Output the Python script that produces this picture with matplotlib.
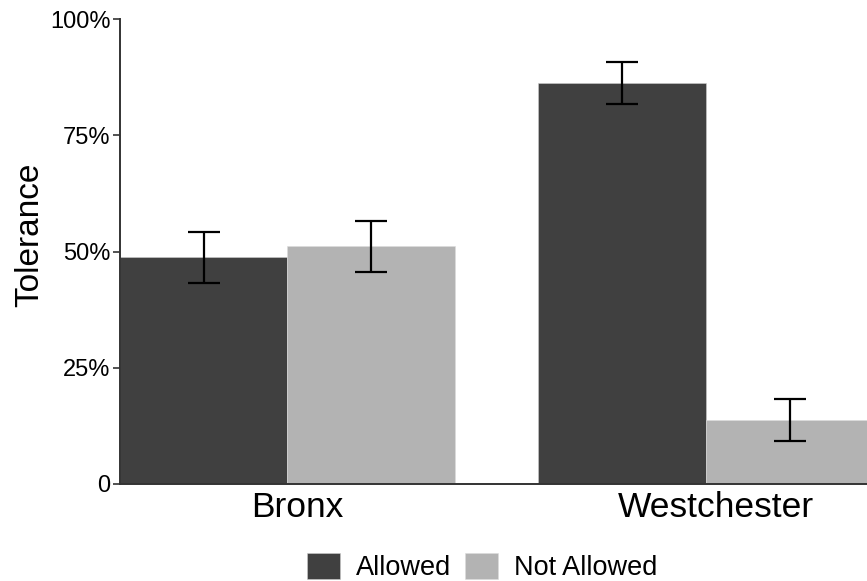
import matplotlib
matplotlib.use("Agg")
import matplotlib.pyplot as plt
import matplotlib.transforms as mtransforms
import numpy as np
from matplotlib.patches import Patch

plt.rcParams['font.family'] = ['Liberation Sans', 'DejaVu Sans']

regions = ["Bronx", "Westchester"]
groups = ["Allowed", "Not Allowed"]
allowed = [0.4875, 0.862]
not_allowed = [0.511, 0.137]
allowed_err = [0.055, 0.045]
not_allowed_err = [0.055, 0.045]
colors = ["#404040", "#b3b3b3"]
yticks = [0, 0.25, 0.5, 0.75, 1.0]
ytick_labels = ["0", "25%", "50%", "75%", "100%"]

fig = plt.figure(figsize=(8.67, 5.81), dpi=100)
ax = fig.add_axes([120/867, 1-484/581, 1-120/867, (484-19)/581])

x = np.arange(1, len(regions)+1)
w = 0.4
ax.bar(x - w/2, allowed, width=w, color=colors[0], edgecolor="#cccccc", linewidth=0.4)
ax.bar(x + w/2, not_allowed, width=w, color=colors[1], edgecolor="#dddddd", linewidth=0.4)
ax.errorbar(x - w/2, allowed, yerr=allowed_err, fmt='none', ecolor='black',
            elinewidth=1.6, capsize=11.2, capthick=1.6)
ax.errorbar(x + w/2, not_allowed, yerr=not_allowed_err, fmt='none', ecolor='black',
            elinewidth=1.6, capsize=11.2, capthick=1.6)

ax.set_xlim(0.6, 2.385)
ax.set_ylim(0, 1.0)
ax.set_yticks(yticks)
ax.set_yticklabels(ytick_labels, fontsize=17)
ax.set_xticks(x)
ax.set_xticklabels(regions, fontsize=25.5)
ax.tick_params(axis='x', length=0, pad=5)
ax.tick_params(axis='y', length=5, width=1.2, color='#333333', pad=2)
offset = mtransforms.ScaledTranslation(0.1, 0, fig.dpi_scale_trans)
for lab in ax.get_xticklabels():
    lab.set_transform(lab.get_transform() + offset)
for s in ['top', 'right']:
    ax.spines[s].set_visible(False)
for s in ['left', 'bottom']:
    ax.spines[s].set_color('#333333')
    ax.spines[s].set_linewidth(1.4)

fig.text(30/867, 1-235/581, "Tolerance", rotation=90, fontsize=24,
         ha='center', va='center')

handles = [Patch(facecolor=colors[0], edgecolor="#cccccc", linewidth=0.4),
           Patch(facecolor=colors[1], edgecolor="#dddddd", linewidth=0.4)]
fig.legend(handles, groups, loc='center', bbox_to_anchor=(482/867, 1-567/581),
           ncol=2, frameon=False, fontsize=19.5, handlelength=1.22, handleheight=1.1,
           handletextpad=0.6, columnspacing=0.5, borderpad=0)

fig.savefig("out.png", dpi=100)
